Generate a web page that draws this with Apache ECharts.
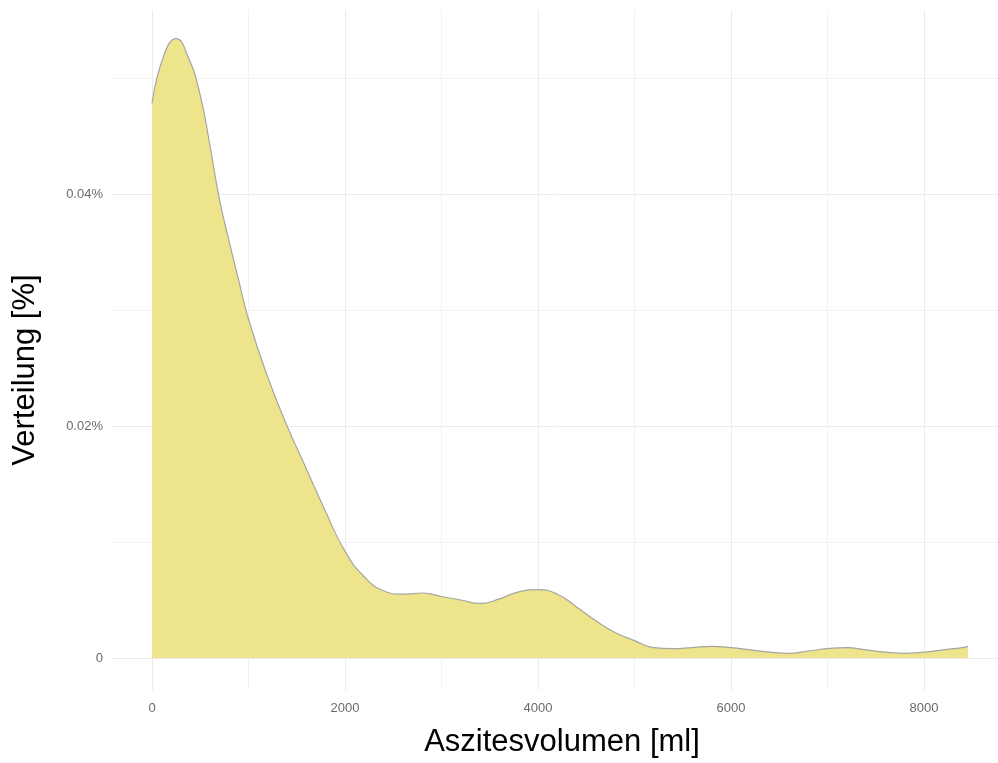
<!DOCTYPE html>
<html>
<head>
<meta charset="utf-8">
<script src="https://cdn.jsdelivr.net/npm/echarts@6/dist/echarts.min.js"></script>
<style>
html,body{margin:0;padding:0;background:#fff;}
#chart{width:998px;height:763px;}
</style>
</head>
<body>
<div id="chart"></div>
<script>
// Aszitesvolumen [ml] (x) and density in percent (y)
const volume = [0, 125, 250, 375, 500, 600, 700, 800, 900, 1000, 1200, 1400, 1600, 1800, 2000, 2200, 2400, 2600, 2800, 3000, 3200, 3400, 3600, 3800, 4000, 4200, 4400, 4600, 4800, 5000, 5200, 5400, 5600, 5800, 6000, 6200, 6400, 6600, 6800, 7000, 7200, 7400, 7600, 7800, 8000, 8200, 8400, 8456];
const density = [0.0478, 0.0520, 0.0534, 0.0518, 0.0485, 0.0442, 0.0395, 0.0359, 0.0325, 0.0292, 0.0242, 0.0200, 0.0163, 0.0126, 0.0092, 0.0070, 0.0058, 0.0055, 0.0056, 0.0053, 0.0050, 0.0047, 0.0051, 0.0057, 0.0059, 0.0055, 0.0044, 0.0032, 0.0022, 0.0015, 0.0009, 0.0008, 0.0009, 0.0010, 0.0009, 0.0007, 0.0005, 0.0004, 0.0006, 0.0008, 0.0009, 0.0007, 0.0005, 0.0004, 0.0005, 0.0007, 0.0009, 0.0010];
const xTicks = [0, 2000, 4000, 6000, 8000];
const yTicks = [0, 0.02, 0.04];
const xTitle = 'Aszitesvolumen [ml]';
const yTitle = 'Verteilung [%]';

const points = volume.map((v, i) => [v, density[i]]);
const gridColor = '#ebebeb';
const minorColor = '#f2f2f2';
const labelColor = '#6b6b6b';
const fontFamily = '"Liberation Sans", Arial, Helvetica, sans-serif';

const chart = echarts.init(document.getElementById('chart'), null, {renderer: 'canvas'});
chart.setOption({
  backgroundColor: '#ffffff',
  animation: false,
  grid: [
    {left: 112, right: -12, top: -38, bottom: -127, containLabel: false, outerBoundsMode: 'none'},
    {left: 152, right: -119, top: 10, bottom: 73, containLabel: false, outerBoundsMode: 'none'}
  ],
  xAxis: [
    {gridIndex: 0, type: 'value', min: 0, max: 1, show: false},
    {
      gridIndex: 1, type: 'value', min: 0, max: 10000, interval: 2000,
      axisLine: {show: false}, axisTick: {show: false},
      axisLabel: {
        show: true, color: labelColor, fontSize: 13, fontFamily: fontFamily, margin: 12,
        formatter: v => xTicks.includes(v) ? String(v) : ''
      },
      splitLine: {show: true, lineStyle: {color: gridColor, width: 1}},
      minorTick: {show: false, splitNumber: 2},
      minorSplitLine: {show: true, lineStyle: {color: minorColor, width: 1}}
    }
  ],
  yAxis: [
    {
      gridIndex: 0, type: 'value', min: -0.02, max: 0.06, interval: 0.02,
      axisLine: {show: false}, axisTick: {show: false},
      axisLabel: {
        show: true, color: labelColor, fontSize: 13, fontFamily: fontFamily, margin: 9,
        formatter: v => {
          const r = Math.round(v * 100) / 100;
          const hit = yTicks.find(t => Math.abs(t - r) < 1e-9);
          if (hit === undefined) return '';
          return hit === 0 ? '0' : hit.toFixed(2) + '%';
        }
      },
      splitLine: {show: true, lineStyle: {color: gridColor, width: 1}},
      minorTick: {show: false, splitNumber: 2},
      minorSplitLine: {show: true, lineStyle: {color: minorColor, width: 1}}
    },
    {
      gridIndex: 1, type: 'value', min: -0.00276, max: 0.05586,
      show: false, splitLine: {show: false}
    }
  ],
  series: [{
    type: 'line',
    xAxisIndex: 1, yAxisIndex: 1,
    data: points,
    smooth: 0.5,
    showSymbol: false,
    symbol: 'none',
    lineStyle: {color: '#a6a6a0', width: 1.2},
    areaStyle: {color: '#ede48b', opacity: 1},
    z: 5
  }],
  graphic: [
    {
      type: 'text', x: 562, y: 742,
      style: {text: xTitle, fill: '#000', fontSize: 31, fontFamily: fontFamily,
        textAlign: 'center', textVerticalAlign: 'middle'}
    },
    {
      type: 'text', x: 25, y: 370, rotation: Math.PI / 2,
      style: {text: yTitle, fill: '#000', fontSize: 31, fontFamily: fontFamily,
        textAlign: 'center', textVerticalAlign: 'middle'}
    }
  ]
});
</script>
</body>
</html>
